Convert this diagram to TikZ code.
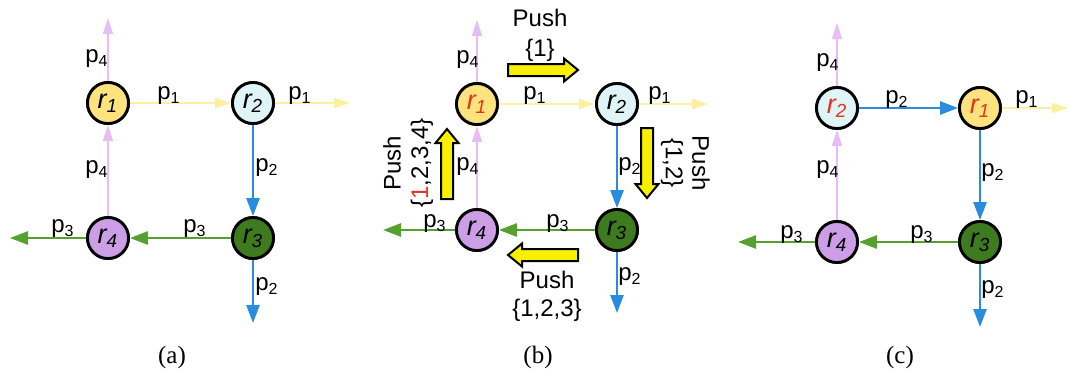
\documentclass[tikz,border=0pt]{standalone}
\usepackage{fontspec}
\setmainfont{Liberation Sans}
\newfontfamily\capfont{Liberation Serif}
\usetikzlibrary{arrows.meta}
\definecolor{nyel}{HTML}{FCE37E}
\definecolor{ncyan}{HTML}{DFF4F6}
\definecolor{ngreen}{HTML}{3E7A1E}
\definecolor{nvio}{HTML}{CC9EE6}
\definecolor{pyel}{HTML}{FBF0A0}
\definecolor{pvio}{HTML}{E6BEF4}
\definecolor{pblue}{HTML}{2A8CDE}
\definecolor{pgreen}{HTML}{55A02E}
\definecolor{pushyel}{HTML}{F8F000}
\definecolor{rred}{HTML}{E8321E}
\tikzset{
  rnode/.style={circle,draw=black,line width=1.4pt,minimum size=20.5pt,inner sep=0pt,font=\fontsize{13.5}{13.5}\selectfont\itshape},
  thinarr/.style={line width=0.8pt,-{Triangle[length=8pt,width=5pt]}},
  thickarr/.style={line width=1.3pt,-{Triangle[length=9pt,width=6.5pt]}},
  pone/.style={thinarr,draw=pyel},
  pfour/.style={thinarr,draw=pvio},
  ptwo/.style={thickarr,draw=pblue},
  pthree/.style={thickarr,draw=pgreen},
  lbl/.style={inner sep=0pt},
  captext/.style={inner sep=0pt,font=\capfont\fontsize{12.5}{14}\selectfont},
  pushbox/.style={draw=black,line width=1pt,fill=pushyel,line join=miter},
  pusharrow/.pic={\path[pushbox] (0,-6) -- (56,-6) -- (56,-11.5) -- (70,0) -- (56,11.5) -- (56,6) -- (0,6) -- cycle;}
}
\begin{document}
\begin{tikzpicture}[x=0.5pt,y=-0.5pt,font=\fontsize{12}{13}\selectfont]
\useasboundingbox (0,0) rectangle (1070,381);
% ---------------- (a)
\coordinate (aT) at (108,18);
\coordinate (aR) at (350,103);
\coordinate (aB) at (253,323);
\coordinate (aL) at (10,238);
\node[rnode,fill=nyel] (a1) at (108,103) {};
\node[rnode,fill=ncyan] (a2) at (253,103) {};
\node[rnode,fill=ngreen] (a3) at (253,238) {};
\node[rnode,fill=nvio] (a4) at (108,238) {};
\draw[pfour] (a1) -- (aT);
\draw[pfour] (a4) -- (a1);
\draw[pone] (a1) -- (a2);
\draw[pone] (a2) -- (aR);
\draw[ptwo] (a2) -- (a3);
\draw[ptwo] (a3) -- (aB);
\draw[pthree] (a3) -- (a4);
\draw[pthree] (a4) -- (aL);
\node[rnode,fill=nyel] at (a1) {r\textsubscript{1}};
\node[rnode,fill=ncyan] at (a2) {r\textsubscript{2}};
\node[rnode,fill=ngreen] at (a3) {r\textsubscript{3}};
\node[rnode,fill=nvio] at (a4) {r\textsubscript{4}};
\node[lbl] (la1) at (97,59) {p\textsubscript{4}};
\node[lbl] (la2) at (97,170) {p\textsubscript{4}};
\node[lbl] (la3) at (169,96) {p\textsubscript{1}};
\node[lbl] (la4) at (300,96) {p\textsubscript{1}};
\node[lbl] (la5) at (267,168) {p\textsubscript{2}};
\node[lbl] (la6) at (267,287) {p\textsubscript{2}};
\node[lbl] (la7) at (63,229) {p\textsubscript{3}};
\node[lbl] (la8) at (195,229) {p\textsubscript{3}};
\node[captext] (capa) at (172,357) {(a)};
% ---------------- (b)
\coordinate (bT) at (477,20);
\coordinate (bR) at (708,104);
\coordinate (bB) at (617,313);
\coordinate (bL) at (383,230);
\node[rnode,fill=nyel] (b1) at (477,104) {};
\node[rnode,fill=ncyan] (b2) at (617,104) {};
\node[rnode,fill=ngreen] (b3) at (617,230) {};
\node[rnode,fill=nvio] (b4) at (477,230) {};
\draw[pfour] (b1) -- (bT);
\draw[pfour] (b4) -- (b1);
\draw[pone] (b1) -- (b2);
\draw[pone] (b2) -- (bR);
\draw[ptwo] (b2) -- (b3);
\draw[ptwo] (b3) -- (bB);
\draw[pthree] (b3) -- (b4);
\draw[pthree] (b4) -- (bL);
\node[rnode,fill=nyel] at (b1) {\textcolor{rred}{r\textsubscript{1}}};
\node[rnode,fill=ncyan] at (b2) {r\textsubscript{2}};
\node[rnode,fill=ngreen] at (b3) {r\textsubscript{3}};
\node[rnode,fill=nvio] at (b4) {r\textsubscript{4}};
\node[lbl] (lb1) at (468,60) {p\textsubscript{4}};
\node[lbl] (lb2) at (468,167) {p\textsubscript{4}};
\node[lbl] (lb3) at (535,96) {p\textsubscript{1}};
\node[lbl] (lb4) at (660,96) {p\textsubscript{1}};
\node[lbl] (lb5) at (630,167) {p\textsubscript{2}};
\node[lbl] (lb6) at (630,277) {p\textsubscript{2}};
\node[lbl] (lb7) at (435,224) {p\textsubscript{3}};
\node[lbl] (lb8) at (558,224) {p\textsubscript{3}};
\pic at (508,70) {pusharrow};
\pic[rotate=90] at (447,199) {pusharrow};
\pic[rotate=-90] at (647,128) {pusharrow};
\pic[rotate=180] at (578,255) {pusharrow};
\node[lbl] (pt1) at (540,18) {Push};
\node[lbl] (pt2) at (540,50) {\{1\}};
\node[lbl,rotate=90] (pt3) at (392,163) {Push};
\node[lbl,rotate=90] (pt4) at (422,163) {\{\textcolor{rred}{1},2,3,4\}};
\node[lbl,rotate=-90] (pt5) at (672,163) {\{1,2\}};
\node[lbl,rotate=-90] (pt6) at (701,163) {Push};
\node[lbl] (pt7) at (547,280) {Push};
\node[lbl] (pt8) at (547,310) {\{1,2,3\}};
\node[captext] (capb) at (538,357) {(b)};
% ---------------- (c)
\coordinate (cT) at (837,23);
\coordinate (cR) at (1068,108);
\coordinate (cB) at (980,327);
\coordinate (cL) at (738,242);
\node[rnode,fill=ncyan] (c2) at (837,108) {};
\node[rnode,fill=nyel] (c1) at (980,108) {};
\node[rnode,fill=ngreen] (c3) at (980,242) {};
\node[rnode,fill=nvio] (c4) at (837,242) {};
\draw[pfour] (c2) -- (cT);
\draw[pfour] (c4) -- (c2);
\draw[ptwo] (c2) -- (c1);
\draw[pone] (c1) -- (cR);
\draw[ptwo] (c1) -- (c3);
\draw[ptwo] (c3) -- (cB);
\draw[pthree] (c3) -- (c4);
\draw[pthree] (c4) -- (cL);
\node[rnode,fill=ncyan] at (c2) {\textcolor{rred}{r\textsubscript{2}}};
\node[rnode,fill=nyel] at (c1) {\textcolor{rred}{r\textsubscript{1}}};
\node[rnode,fill=ngreen] at (c3) {r\textsubscript{3}};
\node[rnode,fill=nvio] at (c4) {r\textsubscript{4}};
\node[lbl] (lc1) at (828,63) {p\textsubscript{4}};
\node[lbl] (lc2) at (828,170) {p\textsubscript{4}};
\node[lbl] (lc3) at (897,100) {p\textsubscript{2}};
\node[lbl] (lc4) at (1027,100) {p\textsubscript{1}};
\node[lbl] (lc5) at (993,173) {p\textsubscript{2}};
\node[lbl] (lc6) at (993,290) {p\textsubscript{2}};
\node[lbl] (lc7) at (792,235) {p\textsubscript{3}};
\node[lbl] (lc8) at (922,235) {p\textsubscript{3}};
\node[captext] (capc) at (900,357) {(c)};
\end{tikzpicture}
\end{document}
